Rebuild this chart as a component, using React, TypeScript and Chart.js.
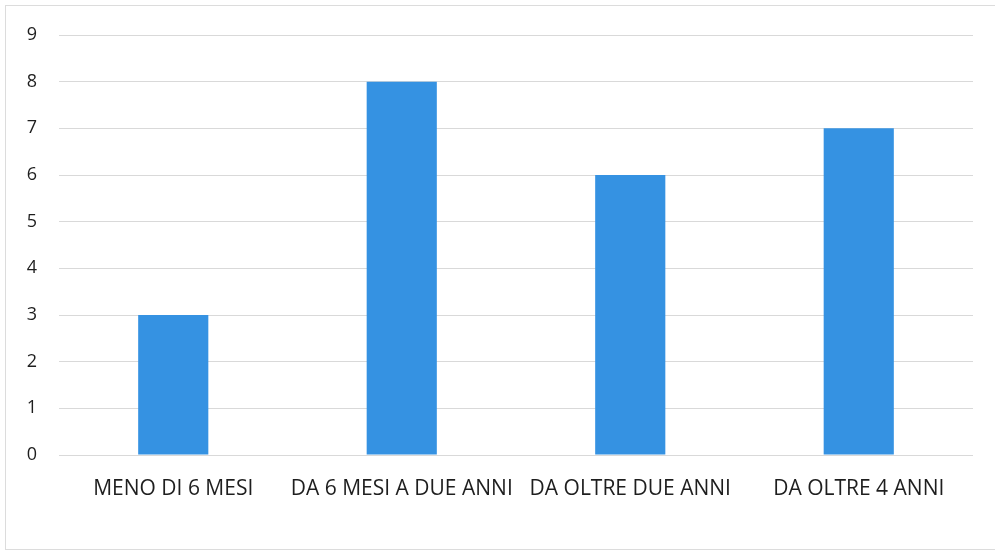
import React, { useEffect, useRef } from "react";
import { Chart, registerables } from "chart.js";

Chart.register(...registerables);

const categories = ["MENO DI 6 MESI", "DA 6 MESI A DUE ANNI", "DA OLTRE DUE ANNI", "DA OLTRE 4 ANNI"];
const values = [3, 8, 6, 7];
const yTicks = [0, 1, 2, 3, 4, 5, 6, 7, 8, 9];

export default function App() {
  const ref = useRef<HTMLCanvasElement | null>(null);
  useEffect(() => {
    if (!ref.current) return;
    const chart = new Chart(ref.current, {
      type: "bar",
      data: {
        labels: categories,
        datasets: [
          {
            data: values,
            backgroundColor: "#3592e2",
            borderWidth: 0,
            categoryPercentage: 1,
            barPercentage: 0.307,
          },
        ],
      },
      options: {
        animation: false,
        responsive: false,
        maintainAspectRatio: false,
        layout: { padding: { top: 35, right: 22, left: 0, bottom: 0 } },
        plugins: { legend: { display: false }, tooltip: { enabled: false } },
        scales: {
          x: {
            grid: { display: false, drawTicks: false },
            border: { display: false },
            ticks: {
              color: "#1e1e1e",
              font: { family: "'Open Sans', sans-serif", size: 21 },
              padding: 21,
              maxRotation: 0,
              autoSkip: false,
            },
            afterFit: (s: any) => {
              s.height = 96;
            },
          },
          y: {
            min: 0,
            max: 9,
            afterBuildTicks: (s: any) => {
              s.ticks = yTicks.map((v) => ({ value: v }));
            },
            grid: { color: "#d9d9d9", lineWidth: 1, drawTicks: false },
            border: { display: false },
            ticks: {
              color: "#1e1e1e",
              font: { family: "'Open Sans', sans-serif", size: 18 },
              padding: 22,
            },
            afterFit: (s: any) => {
              s.width = 59;
            },
          },
        },
      },
    });
    return () => chart.destroy();
  }, []);
  return (
    <div style={{ position: "fixed", left: 0, top: 0, width: 995, height: 551, background: "#fff" }}>
      <canvas ref={ref} width={995} height={551} style={{ display: "block" }} />
      <div
        style={{
          position: "absolute",
          left: 5,
          top: 5,
          width: 990,
          height: 543,
          borderLeft: "1px solid #dcdcdc",
          borderTop: "1px solid #dcdcdc",
          borderBottom: "1px solid #dcdcdc",
          pointerEvents: "none",
        }}
      />
    </div>
  );
}
